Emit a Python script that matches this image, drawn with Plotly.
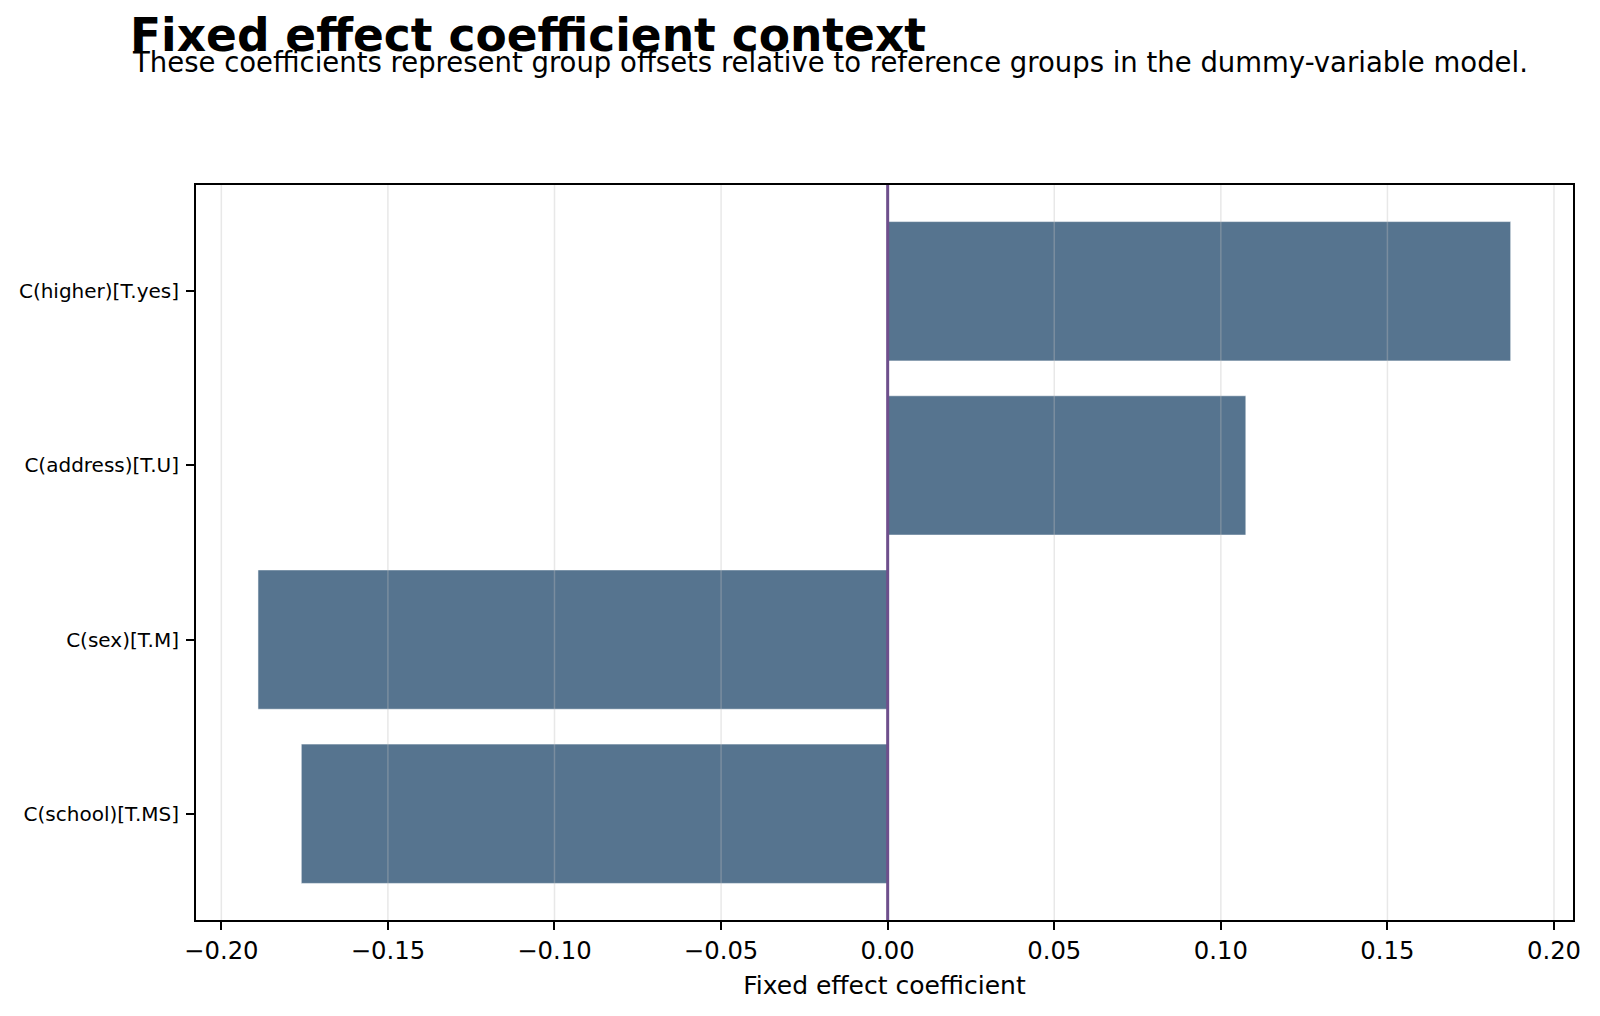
import plotly.graph_objects as go

categories = ["C(school)[T.MS]", "C(sex)[T.M]", "C(address)[T.U]", "C(higher)[T.yes]"]
coefficients = [-0.176, -0.189, 0.1075, 0.187]
x_ticks = [-0.20, -0.15, -0.10, -0.05, 0.00, 0.05, 0.10, 0.15, 0.20]

title_text = "Fixed effect coefficient context"
subtitle_text = "These coefficients represent group offsets relative to reference groups in the dummy-variable model."
x_label = "Fixed effect coefficient"

FONT = "DejaVu Sans"
W, H = 1600, 1016
ML, MR, MT, MB = 196, 27, 185, 96
PW, PH = W - ML - MR, H - MT - MB

def px_x(p):
    return (p - ML) / PW

def px_y(p):
    return (H - MB - p) / PH

fig = go.Figure()
fig.add_trace(go.Bar(
    y=categories, x=coefficients, orientation="h", width=0.8,
    marker=dict(color="#56748f", line=dict(color="rgba(255,255,255,0.55)", width=1)),
    showlegend=False,
))

shapes = []
for t in x_ticks:
    shapes.append(dict(type="line", xref="x", yref="paper", x0=t, x1=t, y0=0, y1=1,
                       layer="above", line=dict(color="rgba(190,190,190,0.35)", width=1.5)))
shapes.append(dict(type="line", xref="x", yref="paper", x0=0, x1=0, y0=0, y1=1,
                   layer="above", line=dict(color="#6e4f8c", width=3)))

fig.update_layout(
    width=W, height=H,
    margin=dict(l=ML, r=MR, t=MT, b=MB, pad=0),
    paper_bgcolor="white", plot_bgcolor="white",
    font=dict(family=FONT, color="black"),
    shapes=shapes,
    bargap=0.2,
    annotations=[
        dict(text="<b>" + title_text + "</b>", xref="paper", yref="paper",
             x=px_x(128), y=px_y(35.5), xanchor="left", yanchor="middle",
             showarrow=False, font=dict(size=45.5, family=FONT, color="black")),
        dict(text=subtitle_text, xref="paper", yref="paper",
             x=px_x(130), y=px_y(62.5), xanchor="left", yanchor="middle",
             showarrow=False, font=dict(size=27.5, family=FONT, color="black")),
    ],
    xaxis=dict(
        range=[-0.2076, 0.2057], tickvals=x_ticks, tickformat=".2f",
        showgrid=False, zeroline=False,
        showline=True, linecolor="black", linewidth=2, mirror=True,
        ticks="outside", ticklen=8, tickwidth=2, tickcolor="black",
        tickfont=dict(size=24.3, family=FONT),
        title=dict(text=x_label, font=dict(size=25, family=FONT), standoff=12),
    ),
    yaxis=dict(
        type="category", range=[-0.61, 3.61],
        showgrid=False, zeroline=False,
        showline=True, linecolor="black", linewidth=2, mirror=True,
        ticks="outside", ticklen=8, tickwidth=2, tickcolor="black",
        tickfont=dict(size=20, family=FONT),
        ticklabelstandoff=3,
    ),
)

fig.write_html("out.html")
